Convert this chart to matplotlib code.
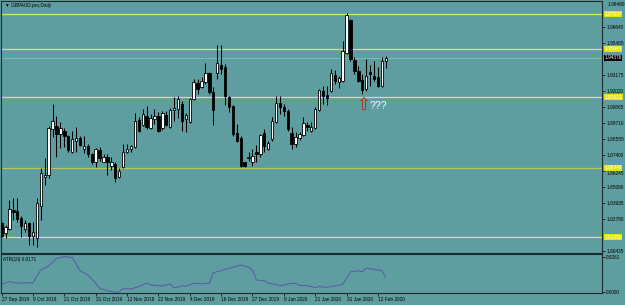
import matplotlib.pyplot as plt

# GBPAUD daily, 27 Sep 2019 .. 14 Feb 2020
opens = [1.8247, 1.8174, 1.8203, 1.8341, 1.8334, 1.8283, 1.8203, 1.8247, 1.8153, 1.8138,
         1.8370, 1.8581, 1.8596, 1.8922, 1.8944, 1.8886, 1.8908, 1.8871, 1.8762, 1.8835,
         1.8857, 1.8777, 1.8799, 1.8741, 1.8683, 1.8770, 1.8690, 1.8719, 1.8661, 1.8675,
         1.8581, 1.8654, 1.8762, 1.8777, 1.8792, 1.8988, 1.8951, 1.9017, 1.8929, 1.8995,
         1.9017, 1.8929, 1.9024, 1.8937, 1.9060, 1.9067, 1.9104, 1.8995, 1.8973, 1.9140,
         1.9256, 1.9227, 1.9263, 1.9329, 1.9191, 1.9329, 1.9387, 1.9372, 1.9155, 1.9089,
         1.8893, 1.8857, 1.8683, 1.8712, 1.8683, 1.8762, 1.8741, 1.8893, 1.8777, 1.8850,
         1.8973, 1.9111, 1.9082, 1.9053, 1.8893, 1.8813, 1.8857, 1.8879, 1.8951, 1.8908,
         1.8929, 1.9060, 1.9198, 1.9169, 1.9198, 1.9314, 1.9263, 1.9271, 1.9474, 1.9713,
         1.9423, 1.9343, 1.9278, 1.9213, 1.9336, 1.9307, 1.9300, 1.9234, 1.9416]
highs = [1.8254, 1.8233, 1.8414, 1.8429, 1.8429, 1.8298, 1.8269, 1.8254, 1.8254, 1.8429,
         1.8646, 1.8712, 1.8944, 1.9104, 1.9017, 1.8973, 1.8929, 1.8879, 1.8908, 1.8937,
         1.8871, 1.8871, 1.8813, 1.8755, 1.8784, 1.8792, 1.8741, 1.8741, 1.8719, 1.8683,
         1.8646, 1.8813, 1.8813, 1.8806, 1.9038, 1.9009, 1.9067, 1.9089, 1.9031, 1.9067,
         1.9046, 1.9053, 1.9053, 1.9075, 1.9155, 1.9162, 1.9125, 1.9038, 1.9147, 1.9285,
         1.9285, 1.9300, 1.9401, 1.9336, 1.9227, 1.9532, 1.9532, 1.9394, 1.9162, 1.9096,
         1.8959, 1.8871, 1.8690, 1.8762, 1.8777, 1.8806, 1.8886, 1.8922, 1.8835, 1.9009,
         1.9162, 1.9162, 1.9104, 1.9067, 1.8937, 1.8900, 1.8900, 1.9009, 1.8973, 1.8973,
         1.9082, 1.9213, 1.9234, 1.9234, 1.9358, 1.9351, 1.9307, 1.9561, 1.9764, 1.9721,
         1.9445, 1.9380, 1.9321, 1.9430, 1.9387, 1.9416, 1.9372, 1.9445, 1.9452]
lows = [1.8145, 1.8138, 1.8196, 1.8269, 1.8254, 1.8145, 1.8182, 1.8087, 1.8087, 1.8073,
        1.8269, 1.8523, 1.8574, 1.8864, 1.8726, 1.8784, 1.8792, 1.8762, 1.8755, 1.8762,
        1.8799, 1.8748, 1.8726, 1.8675, 1.8654, 1.8697, 1.8683, 1.8596, 1.8632, 1.8545,
        1.8574, 1.8646, 1.8755, 1.8762, 1.8784, 1.8900, 1.8944, 1.8922, 1.8922, 1.8959,
        1.8900, 1.8915, 1.8944, 1.8929, 1.8980, 1.9002, 1.8908, 1.8900, 1.8966, 1.9133,
        1.9176, 1.9220, 1.9249, 1.9176, 1.8951, 1.9285, 1.9321, 1.9096, 1.9046, 1.8871,
        1.8828, 1.8654, 1.8654, 1.8697, 1.8661, 1.8690, 1.8726, 1.8762, 1.8770, 1.8835,
        1.8966, 1.9031, 1.9017, 1.8908, 1.8777, 1.8792, 1.8842, 1.8871, 1.8908, 1.8900,
        1.8922, 1.9053, 1.9104, 1.9096, 1.9191, 1.9249, 1.9220, 1.9263, 1.9467, 1.9416,
        1.9321, 1.9263, 1.9176, 1.9198, 1.9234, 1.9271, 1.9227, 1.9227, 1.9365]
closes = [1.8153, 1.8218, 1.8349, 1.8327, 1.8276, 1.8225, 1.8247, 1.8153, 1.8182, 1.8392,
          1.8610, 1.8596, 1.8929, 1.8980, 1.8886, 1.8929, 1.8871, 1.8770, 1.8850, 1.8857,
          1.8806, 1.8799, 1.8741, 1.8683, 1.8777, 1.8712, 1.8719, 1.8683, 1.8690, 1.8574,
          1.8625, 1.8762, 1.8777, 1.8799, 1.8980, 1.8908, 1.9031, 1.8937, 1.9002, 1.9017,
          1.8908, 1.9038, 1.8951, 1.9060, 1.9075, 1.9140, 1.8980, 1.9024, 1.9140, 1.9263,
          1.9213, 1.9271, 1.9329, 1.9191, 1.9060, 1.9401, 1.9358, 1.9162, 1.9082, 1.8886,
          1.8835, 1.8661, 1.8661, 1.8726, 1.8733, 1.8741, 1.8879, 1.8799, 1.8821, 1.8980,
          1.9111, 1.9082, 1.9053, 1.8922, 1.8813, 1.8864, 1.8886, 1.8966, 1.8937, 1.8937,
          1.9067, 1.9205, 1.9162, 1.9147, 1.9329, 1.9271, 1.9292, 1.9488, 1.9750, 1.9430,
          1.9343, 1.9271, 1.9205, 1.9307, 1.9321, 1.9285, 1.9234, 1.9416, 1.9438]

date_bars = [0, 8, 16, 24, 32, 40, 48, 56, 64, 72, 80, 88, 96]
date_labels = ['27 Sep 2019', '9 Oct 2019', '21 Oct 2019', '31 Oct 2019', '12 Nov 2019',
               '22 Nov 2019', '4 Dec 2019', '16 Dec 2019', '27 Dec 2019', '9 Jan 2020',
               '21 Jan 2020', '31 Jan 2020', '12 Feb 2020']

atr_bars = [0, 2, 4, 8, 10, 12, 14, 16, 18, 20, 22, 24, 25, 27, 29, 30, 31, 33, 35, 37,
            38, 41, 42, 43, 44, 46, 47, 49, 51, 53, 54, 56, 58, 59, 61, 63, 64, 65, 67, 68,
            70, 71, 73, 75, 76, 78, 80, 81, 83, 85, 87, 89, 91, 92, 93, 95, 97, 98]
atr_values = [0.0140, 0.0152, 0.0145, 0.0147, 0.0203, 0.0220, 0.0254, 0.0261, 0.0258, 0.0200,
              0.0181, 0.0145, 0.0123, 0.0112, 0.0105, 0.0108, 0.0121, 0.0120, 0.0130, 0.0145,
              0.0137, 0.0133, 0.0137, 0.0142, 0.0124, 0.0133, 0.0132, 0.0145, 0.0142, 0.0145,
              0.0191, 0.0200, 0.0210, 0.0215, 0.0225, 0.0215, 0.0203, 0.0159, 0.0156, 0.0145,
              0.0140, 0.0133, 0.0142, 0.0145, 0.0135, 0.0134, 0.0126, 0.0130, 0.0127, 0.0133,
              0.0139, 0.0195, 0.0199, 0.0195, 0.0210, 0.0206, 0.0200, 0.0171]

level_prices = [1.97537, 1.95044, 1.91531, 1.86446, 1.81450]
price_ticks = [1.96640, 1.95485, 1.93175, 1.92020, 1.90865, 1.89710, 1.88555,
               1.87400, 1.86245, 1.85090, 1.83935, 1.82780, 1.80435]
top_price_label = '1.98489'
last_price = 1.94376
atr_ticks = [0.0261, 0.0106]
atr_tick_labels = ['0.0261', '0.0000']

BG = '#5f9ea0'
plt.rcParams['font.family'] = ['Liberation Sans', 'DejaVu Sans']
FS = 3.4

fig = plt.figure(figsize=(6.25, 3.05), dpi=100, facecolor=BG)
ax = fig.add_axes([1 / 625, 52 / 305, 601 / 625, 252 / 305], facecolor=BG)
ax_atr = fig.add_axes([1 / 625, 12 / 305, 601 / 625, 39 / 305], facecolor=BG)

# candles
for i in range(len(opens)):
    o, h, l, c = opens[i], highs[i], lows[i], closes[i]
    ax.vlines(i, l, h, color='black', lw=0.75, zorder=3)
    body = abs(c - o)
    if body < 0.0002:
        body = 0.0002
    fc = 'white' if c >= o else 'black'
    ax.bar(i, body, bottom=min(o, c), width=0.62, color=fc, edgecolor='black',
           linewidth=0.6, zorder=4)

# horizontal levels
level_colors = ['#d8e86a', '#e8e83a', '#d8e86a', '#b8c458', '#d8e86a']
for p, col in zip(level_prices, level_colors):
    ax.axhline(p, color=col, lw=0.9, zorder=2)
ax.axhline(last_price, color='#86c0c0', lw=0.6, zorder=1)

xlim = (-0.6 / 3.92, 600.4 / 3.92)
ax.set_xlim(*xlim)
ax.set_ylim(1.80295, 1.98489)
ax.set_xticks([])
ax.yaxis.tick_right()
ax.set_yticks(price_ticks)
ax.set_yticklabels([f'{v:.5f}' for v in price_ticks])
ax.tick_params(axis='y', length=2, width=0.5, pad=1, labelsize=FS, colors='black')
for lbl, v in zip(ax.get_yticklabels(), price_ticks):
    # this one sits right under the 1.86446 marker, as in the screenshot
    if abs(v - 1.86245) < 1e-6:
        lbl.set_va('top')
ax.text(1.0085, 0.985, top_price_label, transform=ax.transAxes, fontsize=FS,
        va='center', ha='left')

ytr = ax.get_yaxis_transform()
for p in level_prices:
    ax.text(1.004, p, f'{p:.5f}', transform=ytr, fontsize=FS, color='white',
            va='center', ha='left', zorder=10,
            bbox=dict(boxstyle='square,pad=0.1', fc='#e6e600', ec='none'))
ax.text(1.004, last_price, f'{last_price:.5f}', transform=ytr, fontsize=FS, color='white',
        va='center', ha='left', zorder=10,
        bbox=dict(boxstyle='square,pad=0.1', fc='black', ec='none'))

# annotation
ax.text(92.3, 1.9092, '\u21e7', color='#c81e1e', fontsize=12, ha='center', va='center',
        zorder=6)
ax.text(93.9, 1.9090, '???', color='white', fontsize=7.5, ha='left', va='center', zorder=6)

fig.text(5 / 625, 1 - 5 / 305, '\u25bc GBPAUD.pro,Daily', fontsize=FS, va='center', ha='left')

# ATR panel
ax_atr.plot(atr_bars, atr_values, color='#5a58a8', lw=0.7)
ax_atr.set_xlim(*xlim)
ax_atr.set_ylim(0.0102, 0.0273)
ax_atr.yaxis.tick_right()
ax_atr.set_yticks(atr_ticks)
ax_atr.set_yticklabels(atr_tick_labels)
ax_atr.set_xticks(date_bars)
ax_atr.set_xticklabels(date_labels, ha='left')
ax_atr.tick_params(axis='both', length=2, width=0.5, pad=1, labelsize=FS, colors='black')
ax_atr.text(0.004, 0.93, 'ATR(10) 0.0171', transform=ax_atr.transAxes, fontsize=FS,
            va='top', ha='left')

for a in (ax, ax_atr):
    for s in a.spines.values():
        s.set_color('#1c2b2b')
        s.set_linewidth(0.8)

fig.savefig('out.png', dpi=100, facecolor=BG)
